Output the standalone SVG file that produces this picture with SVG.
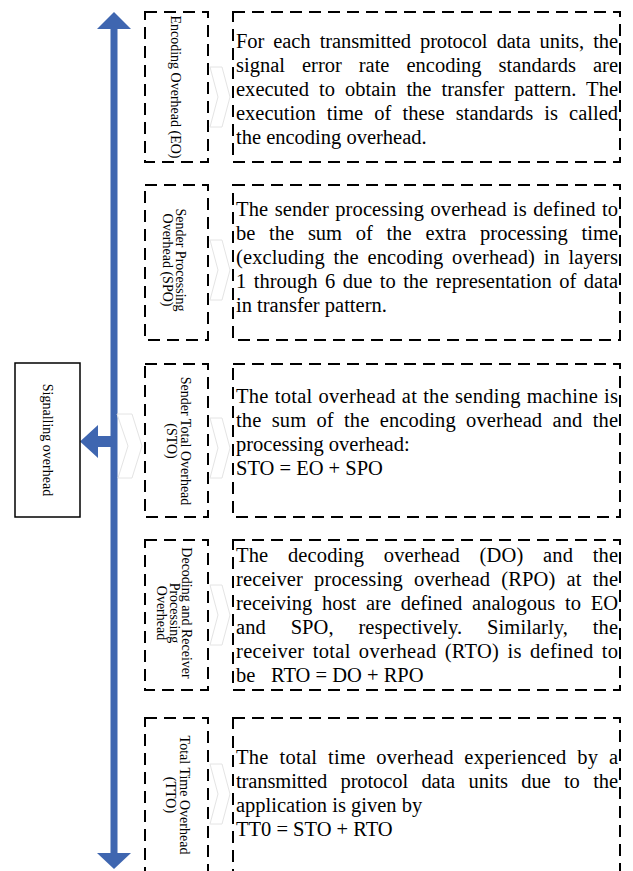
<svg xmlns="http://www.w3.org/2000/svg" width="633" height="871" viewBox="0 0 633 871">
<style>
  .bg{fill:#ffffff}
  .dash{fill:none;stroke:#000;stroke-width:2;stroke-dasharray:12 7}
  .solid{fill:#fff;stroke:#000;stroke-width:1.5}
  .arrow{fill:#3F66B0;stroke:none}
  .chev{fill:none;stroke:#e4e4e4;stroke-width:1}
  .lbl{font-family:"Liberation Serif","Times New Roman",serif;font-size:14px;fill:#000;text-anchor:middle}
  .txt{font-family:"Liberation Serif","Times New Roman",serif;font-size:20.5px;fill:#000}
</style>
<rect class="bg" x="0" y="0" width="633" height="871"/>

<g id="connectors">
  <path class="arrow" d="M114,12 L131,29 L117.5,29 L117.5,853 L131,853 L114,869 L97,853 L110.5,853 L110.5,29 L97,29 Z"/>
  <path class="arrow" d="M111,436 L98,436 L98,425 L80,441.5 L98,458 L98,447 L111,447 Z"/>
  <polygon class="chev" points="117,414 132,414 142,446 132,478 118,478 128,446"/>
  <polygon class="chev" points="210,67 222,67 230,97 222,127 210,127 218,97"/>
  <polygon class="chev" points="210,240 222,240 230,270 222,300 210,300 218,270"/>
  <polygon class="chev" points="210,418 222,418 230,448 222,478 210,478 218,448"/>
  <polygon class="chev" points="210,585 222,585 230,615 222,645 210,645 218,615"/>
  <polygon class="chev" points="210,764 222,764 230,794 222,824 210,824 218,794"/>
</g>

<g id="signalling">
  <rect class="solid" x="15" y="363" width="65" height="154"/>
  <text class="lbl" transform="translate(43,440) rotate(90)">Signalling overhead</text>
</g>

<g id="label-eo">
  <rect class="dash" x="145" y="12" width="63" height="150"/>
  <text class="lbl" transform="translate(170.5,87) rotate(90)">Encoding Overhead (EO)</text>
</g>
<g id="label-spo">
  <rect class="dash" x="145" y="185" width="63" height="155"/>
  <text class="lbl" transform="translate(176,260) rotate(90)"><tspan x="0" y="0">Sender Processing</tspan><tspan x="0" y="13.5">Overhead (SPO)</tspan></text>
</g>
<g id="label-sto">
  <rect class="dash" x="145" y="364" width="63" height="153"/>
  <text class="lbl" transform="translate(180.5,441) rotate(90)"><tspan x="0" y="0">Sender Total Overhead</tspan><tspan x="0" y="13.5">(STO)</tspan></text>
</g>
<g id="label-drpo">
  <rect class="dash" x="145" y="540" width="63" height="150"/>
  <text class="lbl" transform="translate(182,613) rotate(90)"><tspan x="0" y="0">Decoding and Receiver</tspan><tspan x="0" y="12.5">Processing</tspan><tspan x="0" y="25">Overhead</tspan></text>
</g>
<g id="label-tto">
  <rect class="dash" x="145" y="718" width="63" height="160"/>
  <text class="lbl" transform="translate(180,795) rotate(90)"><tspan x="0" y="0">Total Time Overhead</tspan><tspan x="0" y="14">(TTO)</tspan></text>
</g>

<g id="text-eo">
  <rect class="dash" x="233" y="12" width="387" height="150"/>
  <text class="txt">
    <tspan x="236" y="48" word-spacing="4.2" textLength="382" lengthAdjust="spacing">For each transmitted protocol data units, the</tspan>
    <tspan x="236" y="72" word-spacing="11.8" textLength="382" lengthAdjust="spacing">signal error rate encoding standards are</tspan>
    <tspan x="236" y="96" word-spacing="4.9" textLength="382" lengthAdjust="spacing">executed to obtain the transfer pattern. The</tspan>
    <tspan x="236" y="120" word-spacing="6" textLength="382" lengthAdjust="spacing">execution time of these standards is called</tspan>
    <tspan x="236" y="144">the encoding overhead.</tspan>
  </text>
</g>
<g id="text-spo">
  <rect class="dash" x="233" y="185" width="387" height="155"/>
  <text class="txt">
    <tspan x="236" y="216" word-spacing="1.2" textLength="382" lengthAdjust="spacing">The sender processing overhead is defined to</tspan>
    <tspan x="236" y="240" word-spacing="8.6" textLength="382" lengthAdjust="spacing">be the sum of the extra processing time</tspan>
    <tspan x="236" y="264" word-spacing="3.4" textLength="382" lengthAdjust="spacing">(excluding the encoding overhead) in layers</tspan>
    <tspan x="236" y="288" word-spacing="2.35" textLength="382" lengthAdjust="spacing">1 through 6 due to the representation of data</tspan>
    <tspan x="236" y="312">in transfer pattern.</tspan>
  </text>
</g>
<g id="text-sto">
  <rect class="dash" x="233" y="364" width="387" height="153"/>
  <text class="txt">
    <tspan x="236" y="403" word-spacing="0.6" textLength="382" lengthAdjust="spacing">The total overhead at the sending machine is</tspan>
    <tspan x="236" y="427" word-spacing="5" textLength="382" lengthAdjust="spacing">the sum of the encoding overhead and the</tspan>
    <tspan x="236" y="451">processing overhead:</tspan>
    <tspan x="236" y="475">STO = EO + SPO</tspan>
  </text>
</g>
<g id="text-drpo">
  <rect class="dash" x="233" y="540" width="387" height="150"/>
  <text class="txt">
    <tspan x="236" y="562" word-spacing="14.4" textLength="382" lengthAdjust="spacing">The decoding overhead (DO) and the</tspan>
    <tspan x="236" y="586" word-spacing="5.9" textLength="382" lengthAdjust="spacing">receiver processing overhead (RPO) at the</tspan>
    <tspan x="236" y="610" word-spacing="4.65" textLength="382" lengthAdjust="spacing">receiving host are defined analogous to EO</tspan>
    <tspan x="236" y="634" word-spacing="19.6" textLength="382" lengthAdjust="spacing">and SPO, respectively. Similarly, the</tspan>
    <tspan x="236" y="658" word-spacing="2.75" textLength="382" lengthAdjust="spacing">receiver total overhead (RTO) is defined to</tspan>
    <tspan x="236" y="682">be</tspan>
    <tspan x="271" y="682">RTO = DO + RPO</tspan>
  </text>
</g>
<g id="text-tto">
  <rect class="dash" x="233" y="718" width="387" height="160"/>
  <text class="txt">
    <tspan x="236" y="764" word-spacing="5.2" textLength="382" lengthAdjust="spacing">The total time overhead experienced by a</tspan>
    <tspan x="236" y="788" word-spacing="8.4" textLength="382" lengthAdjust="spacing">transmitted protocol data units due to the</tspan>
    <tspan x="236" y="812">application is given by</tspan>
    <tspan x="236" y="836">TT0 = STO + RTO</tspan>
  </text>
</g>
</svg>
